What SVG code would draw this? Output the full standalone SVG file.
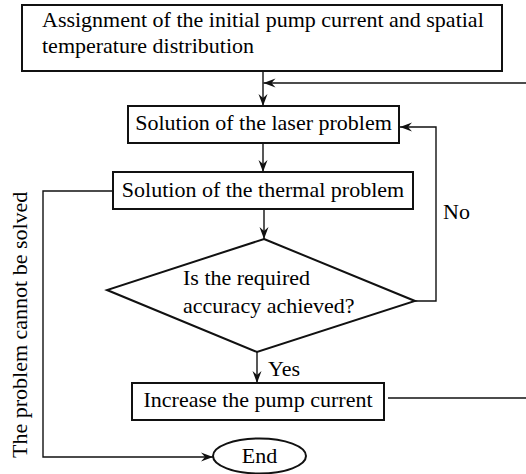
<svg xmlns="http://www.w3.org/2000/svg" width="526" height="474" viewBox="0 0 526 474">
<defs>
<marker id="ah" markerUnits="userSpaceOnUse" markerWidth="14" markerHeight="10" refX="12" refY="5" orient="auto">
<path d="M0,0.5 L12,5 L0,9.5 L4,5 z" fill="#111"/>
</marker>
</defs>
<rect width="526" height="474" fill="#fff"/>
<g id="connectors" fill="none" stroke="#111" stroke-width="1.4">
<line x1="263" y1="72" x2="263" y2="106" marker-end="url(#ah)"/>
<line x1="526" y1="83" x2="263.5" y2="83" marker-end="url(#ah)"/>
<line x1="263" y1="143" x2="263" y2="172" marker-end="url(#ah)"/>
<line x1="264" y1="209" x2="264" y2="239" marker-end="url(#ah)"/>
<line x1="257" y1="352" x2="257" y2="383" marker-end="url(#ah)"/>
<polyline points="415,301 436,301 436,127 400,127" marker-end="url(#ah)"/>
<line x1="388" y1="398" x2="526" y2="398"/>
<polyline points="113,191 43,191 43,457 213,457" marker-end="url(#ah)"/>
</g>
<g id="start">
<rect x="22" y="5" width="480" height="66" fill="#fff" stroke="#111" stroke-width="2"/>
<text x="42" y="27" font-family="Liberation Serif" font-size="22">Assignment of the initial pump current and spatial</text>
<text x="42" y="53" font-family="Liberation Serif" font-size="22">temperature distribution</text>
</g>
<g id="laser">
<rect x="128" y="106" width="271" height="37" fill="#fff" stroke="#111" stroke-width="2"/>
<text x="263.5" y="130" text-anchor="middle" font-family="Liberation Serif" font-size="22">Solution of the laser problem</text>
</g>
<g id="thermal">
<rect x="113" y="172" width="300" height="37" fill="#fff" stroke="#111" stroke-width="2"/>
<text x="263" y="197" text-anchor="middle" font-family="Liberation Serif" font-size="22">Solution of the thermal problem</text>
</g>
<g id="decision">
<polygon points="264,239 415,301 257,352 107,290" fill="#fff" stroke="#111" stroke-width="2"/>
<text x="183" y="285" font-family="Liberation Serif" font-size="22">Is the required</text>
<text x="183" y="313" font-family="Liberation Serif" font-size="22">accuracy achieved?</text>
</g>
<g id="increase">
<rect x="132" y="383" width="252" height="37" fill="#fff" stroke="#111" stroke-width="2"/>
<text x="258" y="407" text-anchor="middle" font-family="Liberation Serif" font-size="22">Increase the pump current</text>
</g>
<g id="end">
<ellipse cx="259.5" cy="456" rx="46.5" ry="17.5" fill="#fff" stroke="#111" stroke-width="2"/>
<text x="259.5" y="463" text-anchor="middle" font-family="Liberation Serif" font-size="22">End</text>
</g>
<g id="labels">
<text x="443" y="219" font-family="Liberation Serif" font-size="22">No</text>
<text x="268" y="376" font-family="Liberation Serif" font-size="22">Yes</text>
<text transform="translate(27,458) rotate(-90)" font-family="Liberation Serif" font-size="22">The problem cannot be solved</text>
</g>
</svg>
